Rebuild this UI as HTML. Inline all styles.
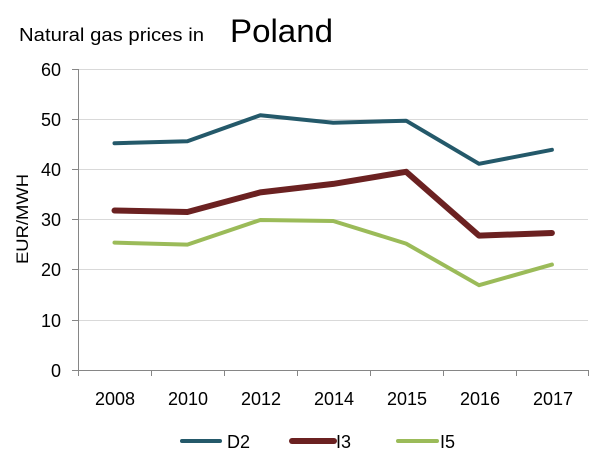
<!DOCTYPE html>
<html>
<head>
<meta charset="utf-8">
<style>
html,body{margin:0;padding:0;background:#fff;}
svg{display:block;}
text{font-family:"Liberation Sans",Arial,sans-serif;fill:#000;}
</style>
</head>
<body>
<svg width="607" height="458" viewBox="0 0 607 458" xmlns="http://www.w3.org/2000/svg">
<rect width="607" height="458" fill="#fff"/>
<!-- title -->
<text x="19" y="41" font-size="18" textLength="185" lengthAdjust="spacingAndGlyphs">Natural gas prices in</text>
<text x="230" y="42" font-size="32" textLength="103" lengthAdjust="spacingAndGlyphs">Poland</text>

<!-- gridlines -->
<g stroke="#d9d9d9" stroke-width="1">
<line x1="78" y1="69.5" x2="588" y2="69.5"/>
<line x1="78" y1="119.5" x2="588" y2="119.5"/>
<line x1="78" y1="169.5" x2="588" y2="169.5"/>
<line x1="78" y1="219.5" x2="588" y2="219.5"/>
<line x1="78" y1="269.5" x2="588" y2="269.5"/>
<line x1="78" y1="320.5" x2="588" y2="320.5"/>
</g>
<!-- axes -->
<g stroke="#868686" stroke-width="1">
<line x1="78.5" y1="69" x2="78.5" y2="370"/>
<line x1="78" y1="370.5" x2="588" y2="370.5"/>
<line x1="72" y1="69.5" x2="78" y2="69.5"/>
<line x1="72" y1="119.5" x2="78" y2="119.5"/>
<line x1="72" y1="169.5" x2="78" y2="169.5"/>
<line x1="72" y1="219.5" x2="78" y2="219.5"/>
<line x1="72" y1="269.5" x2="78" y2="269.5"/>
<line x1="72" y1="320.5" x2="78" y2="320.5"/>
<line x1="72" y1="370.5" x2="78" y2="370.5"/>
<line x1="78.5" y1="370" x2="78.5" y2="376"/>
<line x1="151.5" y1="370" x2="151.5" y2="376"/>
<line x1="224.5" y1="370" x2="224.5" y2="376"/>
<line x1="297.5" y1="370" x2="297.5" y2="376"/>
<line x1="370.5" y1="370" x2="370.5" y2="376"/>
<line x1="443.5" y1="370" x2="443.5" y2="376"/>
<line x1="516.5" y1="370" x2="516.5" y2="376"/>
<line x1="588.5" y1="370" x2="588.5" y2="376"/>
</g>

<!-- y labels -->
<g font-size="18" text-anchor="end">
<text x="61" y="76">60</text>
<text x="61" y="126">50</text>
<text x="61" y="176">40</text>
<text x="61" y="226">30</text>
<text x="61" y="276">20</text>
<text x="61" y="327">10</text>
<text x="61" y="377">0</text>
</g>
<!-- x labels -->
<g font-size="18" text-anchor="middle">
<text x="115" y="405">2008</text>
<text x="188" y="405">2010</text>
<text x="261" y="405">2012</text>
<text x="334" y="405">2014</text>
<text x="407" y="405">2015</text>
<text x="480" y="405">2016</text>
<text x="553" y="405">2017</text>
</g>

<!-- axis title -->
<text transform="translate(28,219) rotate(-90)" font-size="17" text-anchor="middle" textLength="90" lengthAdjust="spacingAndGlyphs">EUR/MWH</text>

<!-- series -->
<g fill="none" stroke-linejoin="round" stroke-linecap="round">
<polyline stroke="#24596a" stroke-width="4" points="114.5,143.2 187.4,141.2 260.3,115.2 333.2,122.7 406.1,120.7 479,163.8 551.9,149.8"/>
<polyline stroke="#6b2121" stroke-width="6" points="114.5,210.5 187.4,212 260.3,192.4 333.2,183.9 406.1,171.8 479,235.6 551.9,233"/>
<polyline stroke="#9bbb59" stroke-width="4" points="114.5,242.6 187.4,244.6 260.3,220 333.2,221 406.1,243.6 479,285.2 551.9,264.6"/>
</g>

<!-- legend -->
<g stroke-linecap="round">
<line x1="182" y1="441" x2="220" y2="441" stroke="#24596a" stroke-width="4"/>
<line x1="292" y1="441" x2="334" y2="441" stroke="#6b2121" stroke-width="6"/>
<line x1="398" y1="441" x2="437" y2="441" stroke="#9bbb59" stroke-width="4"/>
</g>
<g font-size="18">
<text x="227" y="448">D2</text>
<text x="336" y="448">I3</text>
<text x="440" y="448">I5</text>
</g>
</svg>
</body>
</html>
